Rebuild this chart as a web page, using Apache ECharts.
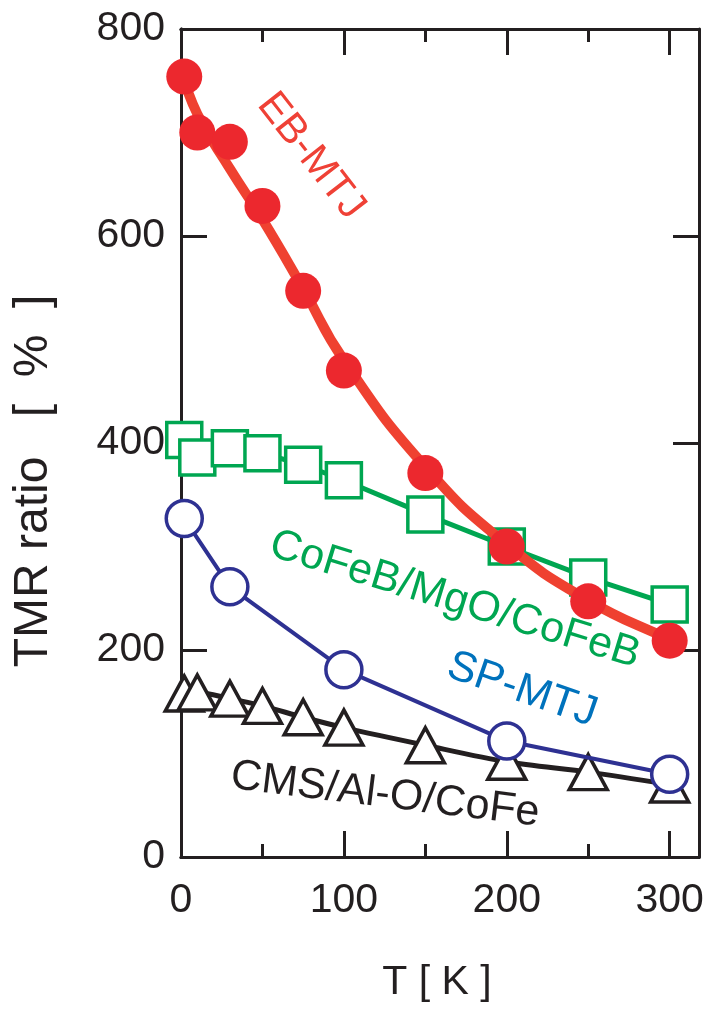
<!DOCTYPE html>
<html>
<head>
<meta charset="utf-8">
<script src="https://cdn.jsdelivr.net/npm/echarts@6/dist/echarts.min.js"></script>
<style>html,body{margin:0;padding:0;background:#fff}#c{width:709px;height:1009px}</style>
</head>
<body>
<div id="c"></div>
<script>
// Temperature (K)
const tAll = [2, 10, 30, 50, 75, 100, 150, 200, 250, 300];
const tSP = [2, 30, 100, 200, 300];
// TMR ratio (%)
const ebMTJ = [754, 700, 691, 629, 547, 470, 371, 300, 247, 209];
const ebFitT = [1, 10, 30, 50, 75, 100, 150, 200, 250, 300, 306];
const ebFitY = [757, 718, 665, 616, 549, 480, 377, 302, 248, 210, 206];
const cofeb = [403, 386, 395, 390, 379, 364, 331, 300, 270, 244];
const spMTJ = [327, 261, 181, 112, 80];
const cms = [158, 159, 153, 146, 135, 125, 108, 92, 82, 70];
const xMajor = [0, 100, 200, 300];
const xMinor = [50, 150, 250];
const yLabels = [0, 200, 400, 600, 800];
const yTicks = [200, 400, 600];

const INK = '#231f20';
const FONT = '"Liberation Sans", Arial, Helvetica, sans-serif';
const zip = (a, b) => a.map((v, i) => [v, b[i]]);

const gridRect = {left: 181, top: 29, right: 10, bottom: 152};
const xBase = (pos, ticks, len, labels, grid) => ({
  type: 'value', gridIndex: grid, position: pos, min: 0, max: 318,
  axisLine: {show: true, onZero: false, lineStyle: {color: INK, width: 3}},
  axisTick: {show: true, inside: true, length: len, customValues: ticks, lineStyle: {color: INK, width: 3}},
  axisLabel: labels ? {show: true, customValues: xMajor, margin: 23, fontSize: 41, color: INK, fontFamily: FONT} : {show: false},
  splitLine: {show: false}
});
const yBase = (pos, labels, grid, showTicks) => ({
  type: 'value', gridIndex: grid, position: pos, min: 0, max: 800,
  axisLine: {show: true, onZero: false, lineStyle: {color: INK, width: 3}},
  axisTick: {show: showTicks, inside: true, length: 26, customValues: yTicks, lineStyle: {color: INK, width: 3}},
  axisLabel: labels ? {show: true, customValues: yLabels, margin: 16, fontSize: 41, color: INK, fontFamily: FONT} : {show: false},
  splitLine: {show: false}
});

const deg = d => d * Math.PI / 180;
const label = (text, x, y, rot, color, size) => ({
  type: 'text', x: x, y: y, rotation: deg(rot), z: 100,
  style: {text: text, fill: color, font: size + 'px ' + FONT, align: 'center', verticalAlign: 'middle'}
});

const chart = echarts.init(document.getElementById('c'), null, {renderer: 'canvas'});
chart.setOption({
  animation: false,
  backgroundColor: '#fff',
  grid: [Object.assign({}, gridRect), Object.assign({}, gridRect)],
  xAxis: [
    xBase('bottom', xMajor, 26, true, 0),
    xBase('top', xMajor, 26, false, 0),
    xBase('bottom', xMinor, 13, false, 1),
    xBase('top', xMinor, 13, false, 1)
  ],
  yAxis: [
    yBase('left', true, 0, true),
    yBase('right', false, 0, true),
    yBase('left', false, 1, false)
  ],
  series: [
    {
      name: 'CMS/Al-O/CoFe', type: 'line', xAxisIndex: 0, yAxisIndex: 0, z: 2,
      data: zip(tAll, cms), smooth: 0.3,
      lineStyle: {color: INK, width: 5},
      symbol: 'triangle', symbolSize: [38, 35], showAllSymbol: true,
      itemStyle: {color: '#fff', borderColor: INK, borderWidth: 3.5}
    },
    {
      name: 'SP-MTJ', type: 'line', xAxisIndex: 0, yAxisIndex: 0, z: 3,
      data: zip(tSP, spMTJ),
      lineStyle: {color: '#2e3192', width: 4},
      symbol: 'circle', symbolSize: 36,
      itemStyle: {color: '#fff', borderColor: '#2e3192', borderWidth: 3.5}
    },
    {
      name: 'CoFeB/MgO/CoFeB', type: 'line', xAxisIndex: 0, yAxisIndex: 0, z: 4,
      data: zip(tAll, cofeb),
      lineStyle: {color: '#00a651', width: 5},
      symbol: 'rect', symbolSize: 35, showAllSymbol: true,
      itemStyle: {color: '#fff', borderColor: '#00a651', borderWidth: 3.5}
    },
    {
      name: 'EB-MTJ fit', type: 'line', xAxisIndex: 0, yAxisIndex: 0, z: 5,
      data: zip(ebFitT, ebFitY), smooth: 0.5, showSymbol: false, symbol: 'none',
      lineStyle: {color: '#ef4130', width: 10}
    },
    {
      name: 'EB-MTJ', type: 'scatter', xAxisIndex: 0, yAxisIndex: 0, z: 6,
      data: zip(tAll, ebMTJ),
      symbol: 'circle', symbolSize: 36,
      itemStyle: {color: '#ec282e', opacity: 1}
    }
  ],
  graphic: [
    label('EB-MTJ', 311, 156, -52, '#ef4136', 41),
    label('CoFeB/MgO/CoFeB', 455, 600, -17, '#00a651', 43),
    label('SP-MTJ', 522, 690, -19, '#0072bc', 43),
    label('CMS/Al-O/CoFe', 385, 795, -7, INK, 43),
    label('TMR ratio', 34, 562, 90, INK, 48),
    label('[  %  ]', 34, 356, 90, INK, 48),
    label('T [ K ]', 437, 983, 0, INK, 41)
  ]
});
</script>
</body>
</html>
